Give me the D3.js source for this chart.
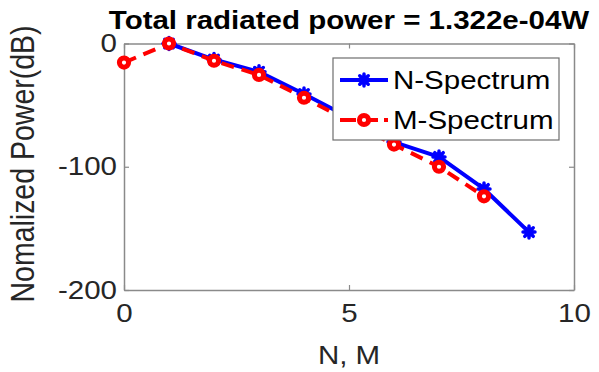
<!DOCTYPE html>
<html>
<head>
<meta charset="utf-8">
<script src="https://cdn.jsdelivr.net/npm/d3@7"></script>
<style>
  html, body { margin: 0; padding: 0; background: #fff; }
  svg { display: block; }
  text { font-family: "Liberation Sans", Arial, sans-serif; fill: #262626; }
</style>
</head>
<body>
<svg id="chart" width="599" height="372"></svg>
<script>
// Spectrum data (normalized power in dB)
const nOrders = [1, 2, 3, 4, 5, 6, 7, 8, 9];
const nPower  = [0, -13, -23, -41, -60, -80, -92, -118, -153];
const mOrders = [0, 1, 2, 3, 4, 5, 6, 7, 8];
const mPower  = [-15.5, 0, -14, -25.5, -44, -63, -82, -100, -124];

const xTicks = [0, 5, 10];
const yTicks = [0, -100, -200];
const titleText = "Total radiated power = 1.322e-04W";
const xLabel = "N, M";
const yLabel = "Nomalized Power(dB)";
const seriesNames = ["N-Spectrum", "M-Spectrum"];

const box = { left: 124, right: 574, top: 43.5, bottom: 290 };
const sx = 1.18; // horizontal text stretch

const svg = d3.select("#chart");
const x = d3.scaleLinear().domain([0, 10]).range([box.left, box.right]);
const y = d3.scaleLinear().domain([-200, 0]).range([box.bottom, box.top]);

const axisColor = "#8a8a8a";
const tickLen = 5;
const fmt = d => String(d); // plain hyphen-minus labels

function styleAxis(g, hideLabels) {
  g.select(".domain").attr("stroke", axisColor).attr("stroke-width", 1.5);
  g.selectAll(".tick line").attr("stroke", axisColor).attr("stroke-width", 1.2);
  if (hideLabels) g.selectAll(".tick text").remove();
}

// Bottom axis
const gx = svg.append("g").attr("transform", `translate(0,${box.bottom})`)
  .call(d3.axisBottom(x).tickValues(xTicks).tickSizeInner(-tickLen).tickSizeOuter(0).tickFormat(fmt));
styleAxis(gx, false);
gx.selectAll(".tick text").attr("font-size", 25).attr("fill", "#262626")
  .attr("transform", `scale(${sx},1)`).attr("dy", "0.71em").attr("y", 14);

// Top axis
const gxt = svg.append("g").attr("transform", `translate(0,${box.top})`)
  .call(d3.axisTop(x).tickValues(xTicks).tickSizeInner(-tickLen).tickSizeOuter(0));
styleAxis(gxt, true);

// Left axis
const gy = svg.append("g").attr("transform", `translate(${box.left},0)`)
  .call(d3.axisLeft(y).tickValues(yTicks).tickSizeInner(-tickLen).tickSizeOuter(0).tickFormat(fmt));
styleAxis(gy, false);
gy.selectAll(".tick text").attr("font-size", 25).attr("fill", "#262626")
  .attr("transform", `scale(${sx},1)`).attr("x", -7 / sx);

// Right axis
const gyr = svg.append("g").attr("transform", `translate(${box.right},0)`)
  .call(d3.axisRight(y).tickValues(yTicks).tickSizeInner(-tickLen).tickSizeOuter(0));
styleAxis(gyr, true);

// Title
svg.append("text")
  .attr("transform", `translate(${(box.left + box.right) / 2},29) scale(${sx},1)`)
  .attr("text-anchor", "middle").attr("font-size", 25).attr("font-weight", "bold")
  .style("fill", "#000")
  .text(titleText);

// Axis labels
svg.append("text")
  .attr("transform", `translate(${(box.left + box.right) / 2},364) scale(${sx},1)`)
  .attr("text-anchor", "middle").attr("font-size", 25)
  .text(xLabel);
svg.append("text")
  .attr("transform", `translate(34,164) scale(${sx},1) rotate(-90)`)
  .attr("text-anchor", "middle").attr("font-size", 28.5)
  .text(yLabel);

// Series
const line = d3.line().x(d => x(d[0])).y(d => y(d[1]));
const nData = nOrders.map((o, i) => [o, nPower[i]]);
const mData = mOrders.map((o, i) => [o, mPower[i]]);

const plot = svg.append("g");

function starMarker(g, cx, cy, r, color) {
  const s = g.append("g").attr("transform", `translate(${cx},${cy})`);
  [0, 45, 90, 135].forEach(a => {
    const rad = a * Math.PI / 180;
    s.append("line")
      .attr("x1", -r * Math.cos(rad)).attr("y1", -r * Math.sin(rad))
      .attr("x2", r * Math.cos(rad)).attr("y2", r * Math.sin(rad))
      .attr("stroke", color).attr("stroke-width", 3.5).attr("stroke-linecap", "round");
  });
  s.append("circle").attr("r", r * 0.8).attr("fill", color);
}

function circleMarker(g, cx, cy, color) {
  g.append("circle").attr("cx", cx).attr("cy", cy).attr("r", 4.6)
    .attr("fill", "#fff").attr("stroke", color).attr("stroke-width", 5);
}

plot.append("path").datum(nData).attr("d", line)
  .attr("fill", "none").attr("stroke", "#0000ff").attr("stroke-width", 4)
  .attr("stroke-linejoin", "round");
nData.forEach(d => starMarker(plot, x(d[0]), y(d[1]), 6, "#0000ff"));

plot.append("path").datum(mData).attr("d", line)
  .attr("fill", "none").attr("stroke", "#ff0000").attr("stroke-width", 4)
  .attr("stroke-dasharray", "13,8");
mData.forEach(d => circleMarker(plot, x(d[0]), y(d[1]), "#ff0000"));

// Legend
const lg = svg.append("g");
const lgBox = { x: 333, y: 58, w: 226, h: 82 };
lg.append("rect").attr("x", lgBox.x).attr("y", lgBox.y).attr("width", lgBox.w).attr("height", lgBox.h)
  .attr("fill", "#fff").attr("stroke", "#6e6e6e").attr("stroke-width", 1.2);
const rows = [
  { name: seriesNames[0], color: "#0000ff", dash: null, cy: 80 },
  { name: seriesNames[1], color: "#ff0000", dash: "16,6", cy: 120 }
];
rows.forEach((r, i) => {
  const ln = lg.append("line").attr("x1", 340).attr("x2", 388).attr("y1", r.cy).attr("y2", r.cy)
    .attr("stroke", r.color).attr("stroke-width", 4);
  if (r.dash) ln.attr("stroke-dasharray", r.dash);
  if (i === 0) starMarker(lg, 364, r.cy, 6, r.color);
  else circleMarker(lg, 364, r.cy, r.color);
  lg.append("text")
    .attr("transform", `translate(393,${r.cy + 9}) scale(${sx},1)`)
    .attr("font-size", 25).style("fill", "#000")
    .text(r.name);
});
</script>
</body>
</html>
